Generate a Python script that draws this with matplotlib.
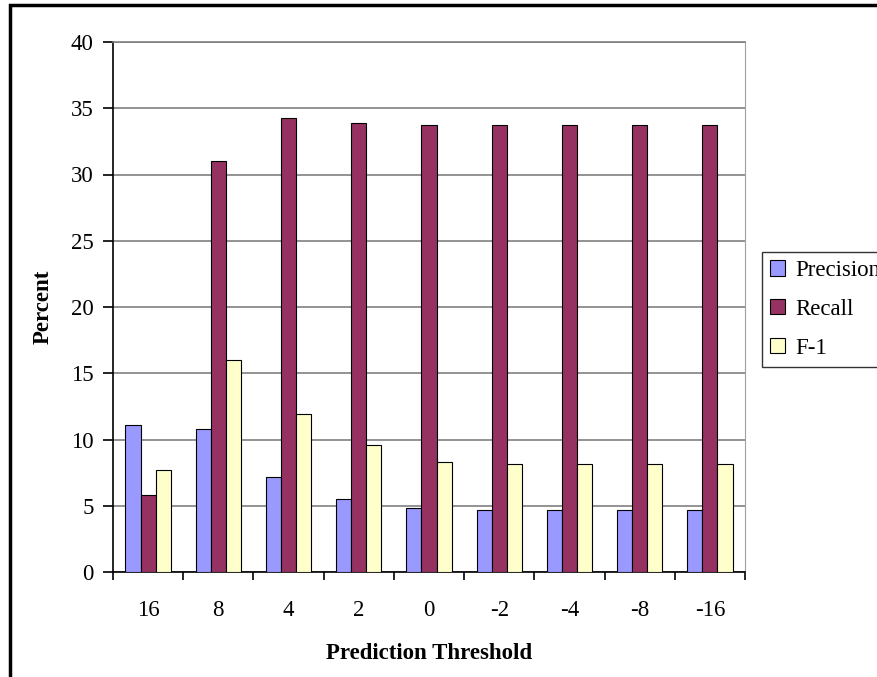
import matplotlib.pyplot as plt
from matplotlib.patches import Rectangle
import numpy as np

# dados
limiares = ['16', '8', '4', '2', '0', '-2', '-4', '-8', '-16']
precisao = [11.1, 10.8, 7.2, 5.5, 4.85, 4.65, 4.65, 4.65, 4.65]
recall = [5.8, 31.0, 34.3, 33.9, 33.7, 33.7, 33.7, 33.7, 33.7]
f1 = [7.7, 16.0, 11.9, 9.6, 8.3, 8.15, 8.15, 8.15, 8.15]
series = ['Precision', 'Recall', 'F-1']
cores = ['#9999FF', '#953262', '#FFFFCC']

plt.rcParams['font.family'] = ['Liberation Serif', 'DejaVu Serif']
tam = 16.5

fig = plt.figure(figsize=(8.78, 6.77), dpi=100)
# moldura externa (so topo e esquerda aparecem)
fig.patches.append(Rectangle((10 / 878, -0.05), 1.2, 1.05 - 5 / 677,
                             transform=fig.transFigure, fill=False,
                             edgecolor='black', linewidth=2.5))

ax = fig.add_axes([113 / 878, 1 - 572 / 677, (745 - 113) / 878, (572 - 42) / 677])

x = np.arange(len(limiares))
largura = 0.215
for i, (valores, nome, cor) in enumerate(zip([precisao, recall, f1], series, cores)):
    ax.bar(x + (i - 1) * largura, valores, largura, color=cor, edgecolor='black',
           linewidth=0.8, label=nome, zorder=3)

ax.set_xlim(-0.5, len(limiares) - 0.5)
ax.set_ylim(0, 40)
ax.set_yticks(np.arange(0, 41, 5))
ax.yaxis.grid(True, color='#808080', linewidth=1.2, zorder=0)
ax.set_xticks(x)
ax.set_xticklabels(limiares)
ax.set_xticks(np.arange(-0.5, len(limiares), 1), minor=True)
ax.tick_params(axis='x', which='major', length=0, pad=20, labelsize=tam)
ax.tick_params(axis='x', which='minor', length=6, width=1.2, direction='out')
ax.tick_params(axis='y', length=7, width=1.2, direction='out', pad=7, labelsize=tam)

ax.spines['left'].set_linewidth(1.2)
ax.spines['bottom'].set_linewidth(1.2)
ax.spines['right'].set_color('#a0a0a0')
ax.spines['top'].set_color('#808080')
ax.spines['top'].set_linewidth(1.2)

ax.set_ylabel('Percent', fontsize=tam, fontweight='bold', labelpad=12)
ax.set_xlabel('Prediction Threshold', fontsize=tam, fontweight='bold', labelpad=16)

leg = ax.legend(loc='upper left', bbox_to_anchor=(762 / 878, 1 - 252 / 677),
                bbox_transform=fig.transFigure, fontsize=tam, frameon=True,
                fancybox=False, edgecolor='black', borderpad=0.35,
                handlelength=0.65, handleheight=0.65, handletextpad=0.44,
                labelspacing=0.78, borderaxespad=0)
leg.get_frame().set_linewidth(1.0)

fig.savefig('out.png', dpi=100)
